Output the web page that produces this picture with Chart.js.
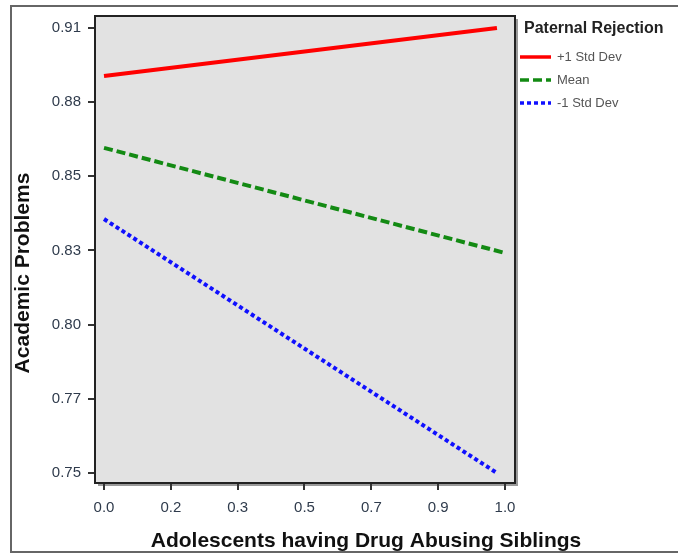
<!DOCTYPE html>
<html>
<head>
<meta charset="utf-8">
<script src="https://cdn.jsdelivr.net/npm/chart.js@4"></script>
<style>
html,body{margin:0;padding:0;background:#fff;}
#wrap{position:relative;width:678px;height:554px;}
</style>
</head>
<body>
<div id="wrap"><canvas id="c" width="678" height="554"></canvas></div>
<script>
// ---- data ----
const seriesLabels = ['+1 Std Dev', 'Mean', '-1 Std Dev'];
const xHigh = [0, 0.98];
const yHigh = [0.8927, 0.9100];
const xMean = [0, 1.0];
const yMean = [0.8669, 0.8291];
const xLow = [0, 0.98];
const yLow = [0.8413, 0.7500];
const xTickLabels = ['0.0', '0.2', '0.3', '0.5', '0.7', '0.9', '1.0'];
const yTickLabels = ['0.75', '0.77', '0.80', '0.83', '0.85', '0.88', '0.91'];
const legendTitle = 'Paternal Rejection';
const xTitle = 'Adolescents having Drug Abusing Siblings';
const yTitle = 'Academic Problems';

const yLo = 0.75, yHi = 0.91;
const yStep = (yHi - yLo) / (yTickLabels.length - 1);
const xStep = 1 / (xTickLabels.length - 1);

function pts(xs, ys){ return xs.map((x,i)=>({x:x, y:ys[i]})); }

const colors = ['#ff0000', '#138a13', '#1010ff'];
const dashes = [[], [9,4], [4,3]];
const FONT = '"Liberation Sans", Arial, sans-serif';

const decor = {
  id: 'decor',
  beforeDraw(chart){
    const ctx = chart.ctx, a = chart.chartArea;
    ctx.save();
    ctx.fillStyle = '#fff';
    ctx.fillRect(0,0,chart.width,chart.height);
    // outer frame
    ctx.strokeStyle = '#666';
    ctx.lineWidth = 2;
    ctx.beginPath();
    ctx.moveTo(678, 6); ctx.lineTo(11, 6); ctx.lineTo(11, 552); ctx.lineTo(678, 552);
    ctx.stroke();
    // plot bg
    ctx.fillStyle = '#e2e2e2';
    ctx.fillRect(a.left, a.top, a.right - a.left, a.bottom - a.top);
    // shadow
    ctx.fillStyle = '#9a9a9a';
    ctx.fillRect(a.left + 3, a.bottom, a.right - a.left, 3);
    ctx.fillRect(a.right, a.top + 3, 3, a.bottom - a.top);
    ctx.restore();
  },
  afterDraw(chart){
    const ctx = chart.ctx, a = chart.chartArea;
    ctx.save();
    ctx.strokeStyle = '#222';
    ctx.lineWidth = 2;
    ctx.strokeRect(a.left, a.top, a.right - a.left, a.bottom - a.top);
    // axis titles
    ctx.fillStyle = '#111';
    ctx.font = 'bold 21px ' + FONT;
    ctx.textAlign = 'center';
    ctx.textBaseline = 'middle';
    ctx.fillText(xTitle, 366, 541);
    ctx.save();
    ctx.translate(23, 273);
    ctx.rotate(-Math.PI/2);
    ctx.font = 'bold 21px ' + FONT;
    ctx.fillText(yTitle, 0, 0);
    ctx.restore();
    // legend
    ctx.textAlign = 'left';
    ctx.font = 'bold 16px ' + FONT;
    ctx.fillStyle = '#222';
    ctx.fillText(legendTitle, 524, 29);
    ctx.font = '13px ' + FONT;
    chart.data.datasets.forEach((ds, i) => {
      const y = 57 + i * 23;
      ctx.strokeStyle = ds.borderColor;
      ctx.lineWidth = 3.5;
      ctx.setLineDash(ds.borderDash || []);
      ctx.beginPath();
      ctx.moveTo(520, y); ctx.lineTo(551, y);
      ctx.stroke();
      ctx.setLineDash([]);
      ctx.fillStyle = '#555';
      ctx.fillText(ds.label, 557, y);
    });
    ctx.restore();
  }
};

new Chart(document.getElementById('c'), {
  type: 'line',
  data: {
    datasets: [
      {label: seriesLabels[0], data: pts(xHigh, yHigh)},
      {label: seriesLabels[1], data: pts(xMean, yMean)},
      {label: seriesLabels[2], data: pts(xLow, yLow)}
    ].map((d,i)=>Object.assign(d, {
      borderColor: colors[i], backgroundColor: colors[i], borderWidth: 4,
      borderDash: dashes[i], pointRadius: 0, fill: false, tension: 0,
      borderCapStyle: 'butt'
    }))
  },
  options: {
    responsive: false,
    animation: false,
    devicePixelRatio: 1,
    layout: {padding: {left: 0, top: 16, right: 163, bottom: 0}},
    plugins: {legend: {display: false}, tooltip: {enabled: false}},
    scales: {
      x: {
        type: 'linear',
        min: -0.0225, max: 1.025,
        afterBuildTicks(s){ s.ticks = xTickLabels.map((l,i)=>({value: i*xStep})); },
        afterFit(s){ s.height = 71; },
        grid: {drawOnChartArea: false, drawTicks: true, tickLength: 7, color: '#333', lineWidth: 2},
        border: {display: true, color: '#222', width: 2},
        ticks: {
          padding: 9, maxRotation: 0, autoSkip: false,
          color: '#2f3b4c',
          font: {family: FONT, size: 15},
          callback: (v, i) => xTickLabels[i]
        }
      },
      y: {
        type: 'linear',
        min: 0.7464, max: 0.9143,
        afterBuildTicks(s){ s.ticks = yTickLabels.map((l,i)=>({value: yLo + i*yStep})); },
        afterFit(s){ s.width = 95; },
        grid: {drawOnChartArea: false, drawTicks: true, tickLength: 7, color: '#333', lineWidth: 2},
        border: {display: true, color: '#222', width: 2},
        ticks: {
          padding: 7, autoSkip: false,
          color: '#2f3b4c',
          font: {family: FONT, size: 15},
          callback: (v, i) => yTickLabels[i]
        }
      }
    }
  },
  plugins: [decor]
});
</script>
</body>
</html>
